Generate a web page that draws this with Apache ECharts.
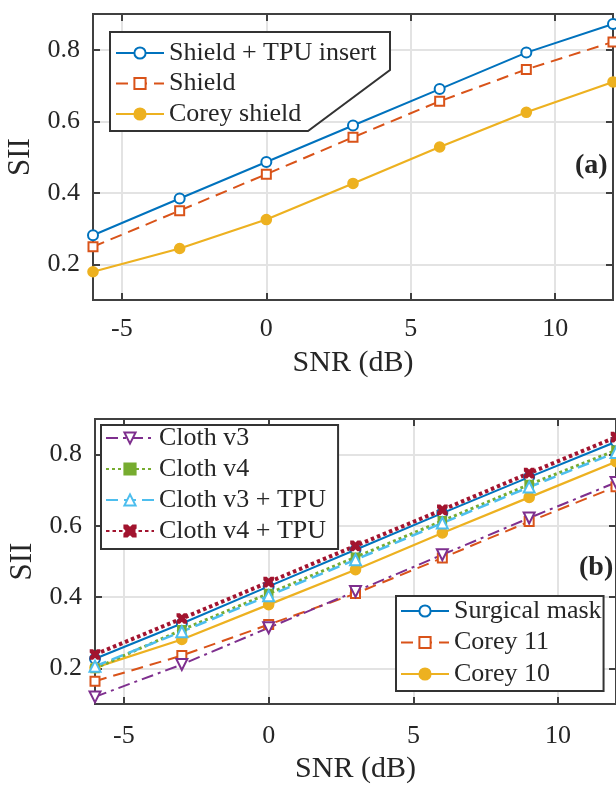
<!DOCTYPE html>
<html>
<head>
<meta charset="utf-8">
<script src="https://cdn.jsdelivr.net/npm/echarts@6/dist/echarts.min.js"></script>
<style>
html, body { margin: 0; padding: 0; background: #fff; }
#main { width: 616px; height: 785px; }
</style>
</head>
<body>
<div id="main"></div>
<script>
var snr = [-6, -3, 0, 3, 6, 9, 12];
var xTicks = [-5, 0, 5, 10];
var yTicks = [0.2, 0.4, 0.6, 0.8];

// panel (a)
var shieldTpu   = [0.281, 0.384, 0.486, 0.588, 0.690, 0.792, 0.872];
var shield      = [0.249, 0.350, 0.452, 0.555, 0.656, 0.745, 0.822];
var coreyShield = [0.179, 0.244, 0.325, 0.426, 0.528, 0.625, 0.710];

// panel (b)
var surgical  = [0.227, 0.326, 0.430, 0.533, 0.636, 0.737, 0.836];
var corey11   = [0.164, 0.236, 0.323, 0.410, 0.510, 0.612, 0.710];
var corey10   = [0.202, 0.281, 0.379, 0.477, 0.580, 0.680, 0.780];
var clothV3   = [0.120, 0.211, 0.314, 0.416, 0.519, 0.622, 0.722];
var clothV4   = [0.200, 0.308, 0.410, 0.512, 0.614, 0.716, 0.812];
var clothV3T  = [0.206, 0.303, 0.404, 0.505, 0.608, 0.709, 0.806];
var clothV4T  = [0.239, 0.340, 0.442, 0.544, 0.645, 0.748, 0.849];

var FONT = '"Liberation Serif", "DejaVu Serif", serif';
var TXT = '#262626';
var EDGE = '#404040';
var crossPath = 'path://M0,0 L2.5,0 L5,2.5 L7.5,0 L10,0 L10,2.5 L7.5,5 L10,7.5 L10,10 L7.5,10 L5,7.5 L2.5,10 L0,10 L0,7.5 L2.5,5 L0,2.5 Z';

function pairs(ys) {
    var out = [];
    for (var i = 0; i < snr.length; i++) out.push([snr[i], ys[i]]);
    return out;
}

function tickStyle(vals) {
    return { show: true, inside: true, length: 7, customValues: vals, lineStyle: { color: EDGE, width: 2 } };
}

function mainX(grid, nameGap, labelMargin) {
    return {
        type: 'value', gridIndex: grid, min: -6, max: 12,
        name: 'SNR (dB)', nameLocation: 'middle', nameGap: nameGap,
        nameTextStyle: { fontFamily: FONT, fontSize: 30, color: TXT },
        axisLine: { show: false, onZero: false },
        axisTick: tickStyle(xTicks),
        axisLabel: { customValues: xTicks, margin: labelMargin, fontFamily: FONT, fontSize: 26, color: TXT },
        splitLine: { show: true, lineStyle: { color: '#e3e3e3', width: 2 } }
    };
}
function topX(grid) {
    return {
        type: 'value', gridIndex: grid, min: -6, max: 12, position: 'top',
        axisLine: { show: false, onZero: false }, axisLabel: { show: false }, splitLine: { show: false },
        axisTick: tickStyle(xTicks)
    };
}
function mainY(grid) {
    return {
        type: 'value', gridIndex: grid, min: 0.1, max: 0.9,
        name: 'SII', nameLocation: 'middle', nameGap: 48,
        nameTextStyle: { fontFamily: FONT, fontSize: 31, color: TXT },
        axisLine: { show: false, onZero: false },
        axisTick: tickStyle(yTicks),
        axisLabel: { customValues: yTicks, margin: 13, fontFamily: FONT, fontSize: 26, color: TXT },
        splitLine: { show: true, lineStyle: { color: '#e3e3e3', width: 2 } }
    };
}
function rightY(grid) {
    return {
        type: 'value', gridIndex: grid, min: 0.1, max: 0.9, position: 'right',
        axisLine: { show: false, onZero: false }, axisLabel: { show: false }, splitLine: { show: false },
        axisTick: tickStyle(yTicks)
    };
}

function line(name, axis, ys, color, symbol, size, lineType, width, rotate) {
    return {
        name: name, type: 'line', xAxisIndex: axis, yAxisIndex: axis,
        data: pairs(ys), symbol: symbol, symbolSize: size, symbolRotate: rotate || 0,
        showAllSymbol: true, animation: false,
        lineStyle: { color: color, width: width, type: lineType, cap: 'butt' },
        itemStyle: { color: color, borderColor: color, borderWidth: 1.6 }
    };
}

function legendBox(names, left, top, gap, boxed, padding) {
    return {
        data: names, orient: 'vertical', left: left, top: top,
        itemWidth: 48, itemHeight: 14, itemGap: gap, padding: padding,
        backgroundColor: boxed ? '#fff' : 'transparent',
        borderColor: boxed ? '#333' : 'transparent', borderWidth: boxed ? 2 : 0,
        textStyle: { fontFamily: FONT, fontSize: 26, lineHeight: 26, color: TXT },
        selectedMode: false
    };
}

var chart = echarts.init(document.getElementById('main'));
chart.setOption({
    backgroundColor: '#fff',
    animation: false,
    grid: [
        { left: 93, top: 14, right: 3, height: 286, outerBoundsMode: 'none', show: true, borderColor: EDGE, borderWidth: 2, backgroundColor: '#fff' },
        { left: 95, top: 419, right: 0, height: 285, outerBoundsMode: 'none', show: true, borderColor: EDGE, borderWidth: 2, backgroundColor: '#fff' }
    ],
    xAxis: [mainX(0, 48, 16), mainX(1, 50, 19), topX(0), topX(1)],
    yAxis: [mainY(0), mainY(1), rightY(0), rightY(1)],
    title: [
        { text: '(a)', left: 570, top: 147, textStyle: { fontFamily: FONT, fontSize: 28, fontWeight: 'bold', color: TXT } },
        { text: '(b)', left: 574, top: 549, textStyle: { fontFamily: FONT, fontSize: 28, fontWeight: 'bold', color: TXT } }
    ],
    graphic: [{
        type: 'polygon', z: 3,
        shape: { points: [[110, 32], [390, 32], [390, 70], [308, 131], [110, 131]] },
        style: { fill: '#fff', stroke: '#333', lineWidth: 2 }
    }],
    legend: [
        legendBox(['Shield + TPU insert', 'Shield', 'Corey shield'], 115, 40, 4.5, false, 0),
        legendBox(['Cloth v3', 'Cloth v4', 'Cloth v3 + TPU', 'Cloth v4 + TPU'], 101, 425, 5, true, [0, 12, 5, 4]),
        legendBox(['Surgical mask', 'Corey 11', 'Corey 10'], 396, 596, 5.5, true, [2, 2, 4, 4])
    ],
    series: [
        line('Shield + TPU insert', 0, shieldTpu, '#0072BD', 'emptyCircle', 10, 'solid', 2),
        line('Shield', 0, shield, '#D95319', 'emptyRect', 9, [12, 7], 2),
        line('Corey shield', 0, coreyShield, '#EDB120', 'circle', 10, 'solid', 2.2),

        line('Surgical mask', 1, surgical, '#0072BD', 'emptyCircle', 10, 'solid', 2),
        line('Corey 11', 1, corey11, '#D95319', 'emptyRect', 9, [12, 7], 2),
        line('Corey 10', 1, corey10, '#EDB120', 'circle', 10, 'solid', 2.2),
        line('Cloth v3', 1, clothV3, '#7E2F8E', 'emptyTriangle', 11, [12, 5, 3, 5], 2, 180),
        line('Cloth v4', 1, clothV4, '#77AC30', 'rect', 8, [3, 3], 3),
        line('Cloth v3 + TPU', 1, clothV3T, '#4DBEEE', 'emptyTriangle', 11, [12, 6], 2.5),
        line('Cloth v4 + TPU', 1, clothV4T, '#A2142F', crossPath, 9, [3.5, 3], 4)
    ]
});
</script>
</body>
</html>
